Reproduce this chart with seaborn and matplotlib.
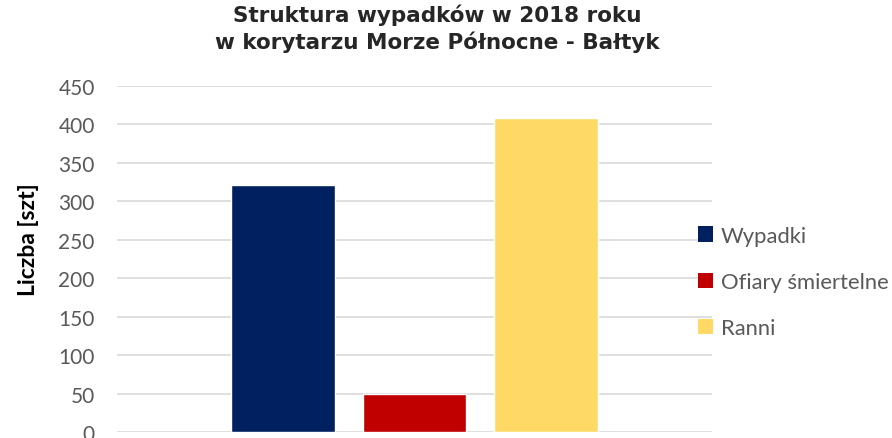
import matplotlib
matplotlib.use("Agg")
import matplotlib.pyplot as plt
import seaborn as sns
import pandas as pd

# Accident structure, 2018, North Sea - Baltic corridor
categories = ["Wypadki", "Ofiary śmiertelne", "Ranni"]
values = [321, 50, 408]
colors = ["#002060", "#C00000", "#FFD966"]
yticks = [0, 50, 100, 150, 200, 250, 300, 350, 400, 450]

df = pd.DataFrame({"kategoria": categories, "liczba": values})

sns.set_theme(style="white")
plt.rcParams["font.family"] = ["Lato", "DejaVu Sans"]

fig = plt.figure(figsize=(8.92, 4.39), dpi=100)
ax = fig.add_axes([117 / 892, 6 / 439, (712 - 117) / 892, (433 - 87) / 439])

sns.barplot(data=df, x="kategoria", y="liczba", hue="kategoria",
            palette=colors, width=104 / 132, saturation=1,
            legend=False, ax=ax, zorder=3)

ax.set_xlim(-1.258, 3.258)
ax.set_ylim(0, 450)
ax.set_yticks(yticks)
ax.set_yticklabels([str(t) for t in yticks], color="#595959", fontsize=15)
ax.tick_params(axis="y", length=0, pad=16)
ax.set_xticks([])
ax.set_xlabel("")
ax.set_ylabel("")
ax.grid(axis="y", color="#D9D9D9", linewidth=1.2, zorder=0)
for s in ax.spines.values():
    s.set_visible(False)

fig.text(29 / 892, 1 - 240 / 439, "Liczba [szt]", rotation=90, ha="center", va="center",
         fontsize=16.5, fontweight="bold", color="black")

handles = [matplotlib.patches.Patch(facecolor=c, edgecolor="none") for c in colors]
fig.legend(handles, categories, loc="center left", bbox_to_anchor=(698 / 892, 1 - 283 / 439),
           frameon=False, fontsize=15.8, labelcolor="#595959",
           handlelength=0.7, handleheight=0.7, handletextpad=0.35,
           labelspacing=1.2, borderaxespad=0, borderpad=0)

fig.suptitle("Struktura wypadków w 2018 roku\nw korytarzu Morze Północne - Bałtyk",
             x=437 / 892, y=1 - 5 / 439, va="top", fontsize=15.5, fontweight="bold",
             family=["DejaVu Sans"], linespacing=1.28)

fig.savefig("out.png", dpi=100, facecolor="white")
